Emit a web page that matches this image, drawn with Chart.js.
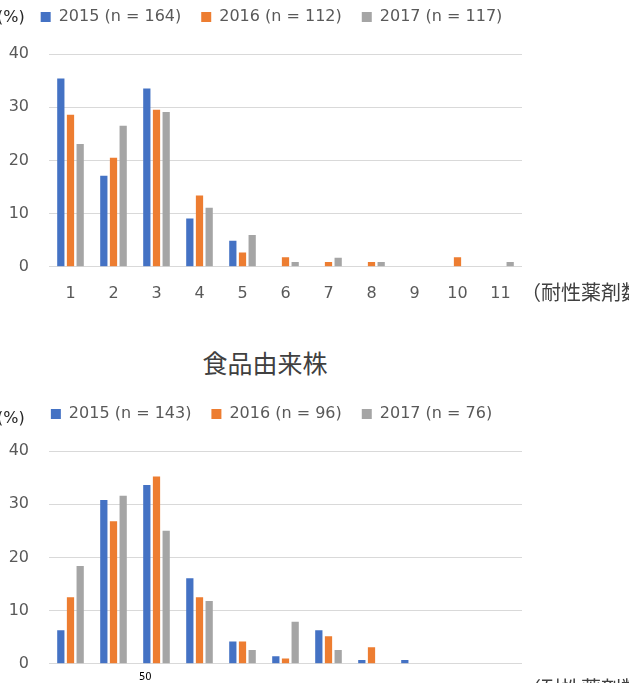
<!DOCTYPE html>
<html>
<head>
<meta charset="utf-8">
<script src="https://cdn.jsdelivr.net/npm/chart.js@4/dist/chart.umd.min.js"></script>
<style>
  html, body { margin: 0; padding: 0; background: #fff; }
  body { width: 629px; height: 683px; overflow: hidden; position: relative; font-family: "DejaVu Sans", sans-serif; }
  canvas { position: absolute; left: 0; }
  #upperChart { top: -11px; }
  #foodChart { top: 386px; }
  .unit { position: absolute; left: -3px; font-size: 16px; line-height: 18px; color: #262626; }
  .xname { position: absolute; left: 521px; font-family: "Noto Sans CJK JP", sans-serif; font-size: 20px; line-height: 24px; color: #404040; white-space: nowrap; }
  .title { position: absolute; left: 165px; width: 200px; top: 347px; text-align: center; font-family: "Noto Sans CJK JP", sans-serif; font-size: 25px; line-height: 30px; color: #404040; }
  .stray { position: absolute; left: 139px; top: 671px; font-size: 10px; line-height: 12px; color: #000; }
</style>
</head>
<body>
<canvas id="upperChart" width="629" height="331"></canvas>
<canvas id="foodChart" width="629" height="331"></canvas>
<div class="unit" style="top:8px">(%)</div>
<div class="xname" style="top:280px">（耐性薬剤数）</div>
<div class="title">食品由来株</div>
<div class="unit" style="top:409px">(%)</div>
<div class="xname" style="top:676px">（耐性薬剤数）</div>
<div class="stray">50</div>
<script>
// number of resistant drugs (x categories)
const drugCounts = ['1', '2', '3', '4', '5', '6', '7', '8', '9', '10', '11'];
const yTicks = [0, 10, 20, 30, 40];

// upper chart
const upperNames = ['2015 (n = 164)', '2016 (n = 112)', '2017 (n = 117)'];
const upper2015 = [35.4, 17.1, 33.5, 9.1, 4.9, 0, 0, 0, 0, 0, 0];
const upper2016 = [28.6, 20.5, 29.5, 13.4, 2.7, 1.8, 0.9, 0.9, 0, 1.8, 0];
const upper2017 = [23.1, 26.5, 29.1, 11.1, 6.0, 0.9, 1.7, 0.9, 0, 0, 0.9];

// food-derived strains
const foodNames = ['2015 (n = 143)', '2016 (n = 96)', '2017 (n = 76)'];
const food2015 = [6.3, 30.8, 33.6, 16.1, 4.2, 1.4, 6.3, 0.7, 0.7, 0, 0];
const food2016 = [12.5, 26.8, 35.2, 12.5, 4.2, 1.0, 5.2, 3.1, 0, 0, 0];
const food2017 = [18.4, 31.6, 25.0, 11.8, 2.6, 7.9, 2.6, 0, 0, 0, 0];

const seriesColors = ['#4472C4', '#ED7D31', '#A5A5A5'];
const textGray = '#595959';
const tickFont = { family: 'DejaVu Sans', size: 16 };

// legend: keep it on one row, leave a gap under it, nudge it right a bit
const legendTweak = {
    id: 'legendTweak',
    beforeInit(chart) {
        const fit = chart.legend.fit;
        chart.legend.fit = function () {
            this.maxWidth += 80;
            fit.call(this);
            this.height += 19;
        };
    },
    afterLayout(chart) {
        chart.legend.left += 12;
        chart.legend.right += 1;
    }
};

function makeChart(id, names, series) {
    const ctx = document.getElementById(id);
    return new Chart(ctx, {
        type: 'bar',
        data: {
            labels: drugCounts,
            datasets: series.map((values, i) => ({
                label: names[i],
                data: values,
                backgroundColor: seriesColors[i],
                categoryPercentage: 0.675,
                barPercentage: 0.75
            }))
        },
        options: {
            responsive: false,
            animation: false,
            layout: { padding: { left: 8, right: 107, top: 0, bottom: 0 } },
            plugins: {
                legend: {
                    position: 'top',
                    labels: {
                        boxWidth: 10,
                        boxHeight: 10,
                        padding: 20,
                        color: textGray,
                        font: tickFont
                    }
                },
                tooltip: { enabled: false }
            },
            scales: {
                x: {
                    grid: { display: false, drawTicks: false },
                    border: { display: false },
                    ticks: { color: textGray, font: tickFont, padding: 17, maxRotation: 0 }
                },
                y: {
                    min: yTicks[0],
                    max: yTicks[yTicks.length - 1],
                    afterBuildTicks: function (scale) {
                        scale.ticks = yTicks.map(v => ({ value: v }));
                    },
                    afterFit: function (scale) { scale.width = 41; },
                    grid: { color: '#D9D9D9', lineWidth: 1, drawTicks: false },
                    border: { display: false },
                    ticks: { color: textGray, font: tickFont, padding: 20 }
                }
            }
        },
        plugins: [legendTweak]
    });
}

makeChart('upperChart', upperNames, [upper2015, upper2016, upper2017]);
makeChart('foodChart', foodNames, [food2015, food2016, food2017]);
</script>
</body>
</html>
